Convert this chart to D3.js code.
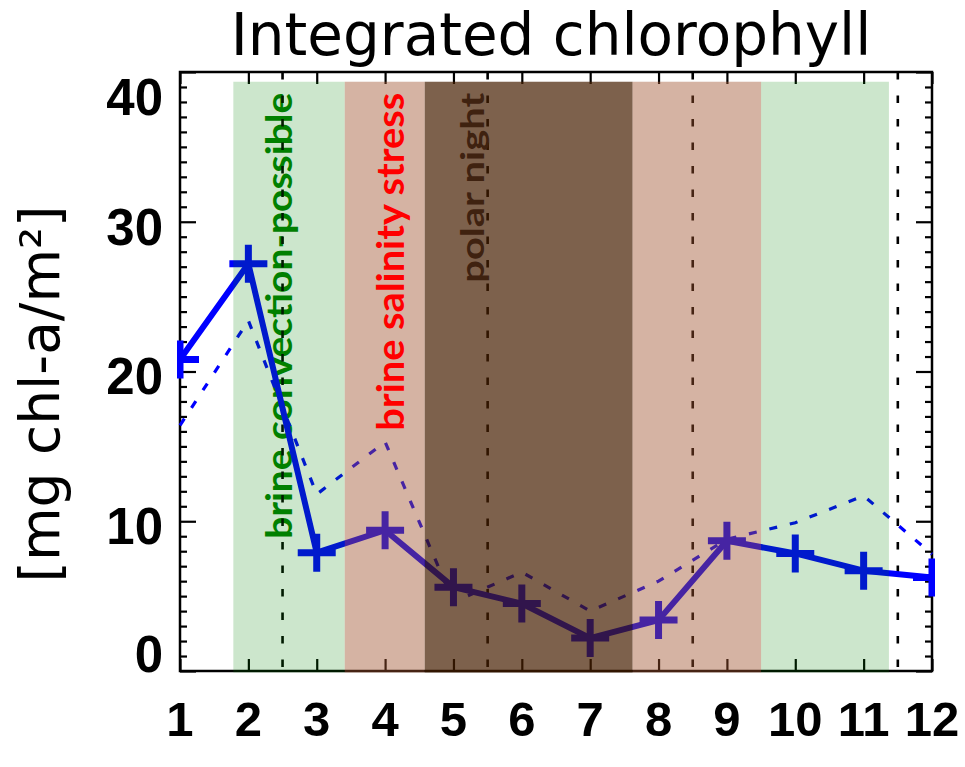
<!DOCTYPE html>
<html>
<head>
<meta charset="utf-8">
<script src="https://cdn.jsdelivr.net/npm/d3@7"></script>
<style>
  html, body { margin: 0; padding: 0; background: #fff; }
  svg { display: block; }
</style>
</head>
<body>
<svg id="chart" width="965" height="767"></svg>
<script>
// Monthly integrated chlorophyll (mg chl-a / m^2)
const months = [1, 2, 3, 4, 5, 6, 7, 8, 9, 10, 11, 12];
const chlSolid = [20.8, 27.2, 7.9, 9.4, 5.6, 4.5, 2.2, 3.4, 8.7, 7.85, 6.7, 6.25];
const chlDashed = [16.4, 23.4, 11.8, 15.3, 4.6, 6.6, 4.0, 6.0, 8.8, 9.9, 11.7, 7.8];

// Seasonal regimes (month-axis spans)
const bandStart = [1.78, 3.41, 4.58, 7.62, 9.5];
const bandEnd = [3.41, 4.58, 7.62, 9.5, 11.37];
const bandKind = ["convection", "salinity", "night", "salinity", "convection"];
const bandTop = 39.35;

// Transition markers
const transitions = [2.5, 5.5, 8.5, 11.5];

// Regime labels
const regimeText = ["brine convection-possible", "brine salinity stress", "polar night"];
const regimeX = [2.64, 4.27, 5.45];
const regimeColor = ["#008000", "#ff0000", "#3f2210"];
const regimeSize = [37, 38, 33];
const regimeLen = [446, 338, 190];
const regimeAbove = [false, true, true];

const yTickLabels = [0, 10, 20, 30, 40];

const svg = d3.select("#chart");
const L = 180, R = 932, T = 72, B = 671;

const x = d3.scaleLinear().domain([1, 12]).range([L, R]);
const y = d3.scaleLinear().domain([0, 40]).range([B, T]);

const bandStyle = {
  convection: { fill: "rgb(0,128,0)", opacity: 0.2 },
  salinity: { fill: "rgb(160,82,45)", opacity: 0.44 },
  night: { fill: "rgb(70,30,0)", opacity: 0.7 }
};

// frame
svg.append("rect")
  .attr("x", L).attr("y", T).attr("width", R - L).attr("height", B - T)
  .attr("fill", "none").attr("stroke", "#000").attr("stroke-width", 2.5);

// inward ticks on all four sides
function tickAxis(axis, tx, ty) {
  const g = svg.append("g").attr("transform", `translate(${tx},${ty})`).call(axis);
  g.select(".domain").remove();
  g.selectAll("text").remove();
  g.selectAll("line").attr("stroke", "#000").attr("stroke-width", 2.2);
  return g;
}
const minorY = d3.range(0, 41, 1).filter(v => v % 10 !== 0);
const majorY = [0, 10, 20, 30, 40];
tickAxis(d3.axisLeft(y).tickValues(minorY).tickSize(-7), L, 0);
tickAxis(d3.axisLeft(y).tickValues(majorY).tickSize(-16), L, 0);
tickAxis(d3.axisRight(y).tickValues(minorY).tickSize(-7), R, 0);
tickAxis(d3.axisRight(y).tickValues(majorY).tickSize(-16), R, 0);
tickAxis(d3.axisBottom(x).tickValues(months).tickSize(-12), 0, B);
tickAxis(d3.axisTop(x).tickValues(months).tickSize(-12), 0, T);

// tick labels
const labelFont = "'Liberation Sans', Arial, sans-serif";
svg.append("g").selectAll("text").data(months).join("text")
  .attr("x", d => x(d)).attr("y", 736)
  .attr("text-anchor", "middle")
  .attr("font-family", labelFont).attr("font-weight", "bold").attr("font-size", 49)
  .text(d => d);

// y labels sit just below their tick, kept inside the frame at both ends
svg.append("g").selectAll("text").data(yTickLabels).join("text")
  .attr("x", 163)
  .attr("y", d => Math.min(Math.max(y(d) + 5, T + 25), B - 17))
  .attr("dy", "0.35em")
  .attr("text-anchor", "end")
  .attr("font-family", labelFont).attr("font-weight", "bold").attr("font-size", 51)
  .text(d => d);

// title and axis title
svg.append("text")
  .attr("x", 551).attr("y", 55)
  .attr("text-anchor", "middle")
  .attr("font-family", "'DejaVu Sans', sans-serif").attr("font-size", 58)
  .text("Integrated chlorophyll");

svg.append("text")
  .attr("transform", "translate(59,394) rotate(-90)")
  .attr("text-anchor", "middle")
  .attr("font-family", "'DejaVu Sans', sans-serif").attr("font-size", 55)
  .text("[mg chl-a/m²]");

// regime labels (read bottom to top, flush with the band tops)
function regimeLabels(layer, above) {
  const idx = regimeText.map((d, i) => i).filter(i => regimeAbove[i] === above);
  layer.selectAll("text").data(idx).join("text")
    .attr("transform", i => `translate(${x(regimeX[i])},${y(bandTop) + 11}) rotate(-90)`)
    .attr("text-anchor", "end")
    .attr("font-family", "Lato, 'Open Sans', sans-serif").attr("font-weight", "bold")
    .attr("font-size", i => regimeSize[i])
    .attr("fill", i => regimeColor[i])
    .attr("textLength", i => regimeLen[i])
    .attr("lengthAdjust", "spacingAndGlyphs")
    .text(i => regimeText[i]);
}
regimeLabels(svg.append("g"), false);

// transition markers
svg.append("g").selectAll("line").data(transitions).join("line")
  .attr("x1", d => x(d)).attr("x2", d => x(d))
  .attr("y1", T).attr("y2", B)
  .attr("stroke", "#000").attr("stroke-width", 2.6)
  .attr("stroke-dasharray", "7.5,16");

// data series, clipped to the plot box
svg.append("clipPath").attr("id", "plotClip")
  .append("rect").attr("x", L - 3).attr("y", 0).attr("width", R - L + 6).attr("height", 767);
const data = svg.append("g").attr("clip-path", "url(#plotClip)");

const line = d3.line().x((d, i) => x(months[i])).y(d => y(d));
data.append("path").datum(chlDashed)
  .attr("d", line)
  .attr("fill", "none").attr("stroke", "#0000ff").attr("stroke-width", 3.2)
  .attr("stroke-dasharray", "8,13");
data.append("path").datum(chlSolid)
  .attr("d", line)
  .attr("fill", "none").attr("stroke", "#0000ff").attr("stroke-width", 6)
  .attr("stroke-linejoin", "round");

const arm = 19;
data.append("g").selectAll("path").data(chlSolid).join("path")
  .attr("d", (d, i) => `M${x(months[i]) - arm},${y(d)}H${x(months[i]) + arm}M${x(months[i])},${y(d) - arm}V${y(d) + arm}`)
  .attr("fill", "none").attr("stroke", "#0000ff").attr("stroke-width", 7);

// translucent regime bands laid over everything
svg.append("g").selectAll("rect").data(bandKind).join("rect")
  .attr("x", (d, i) => x(bandStart[i]))
  .attr("width", (d, i) => x(bandEnd[i]) - x(bandStart[i]))
  .attr("y", y(bandTop))
  .attr("height", y(0) - y(bandTop) + 1.5)
  .attr("fill", d => bandStyle[d].fill)
  .attr("fill-opacity", d => bandStyle[d].opacity);

regimeLabels(svg.append("g"), true);
</script>
</body>
</html>
